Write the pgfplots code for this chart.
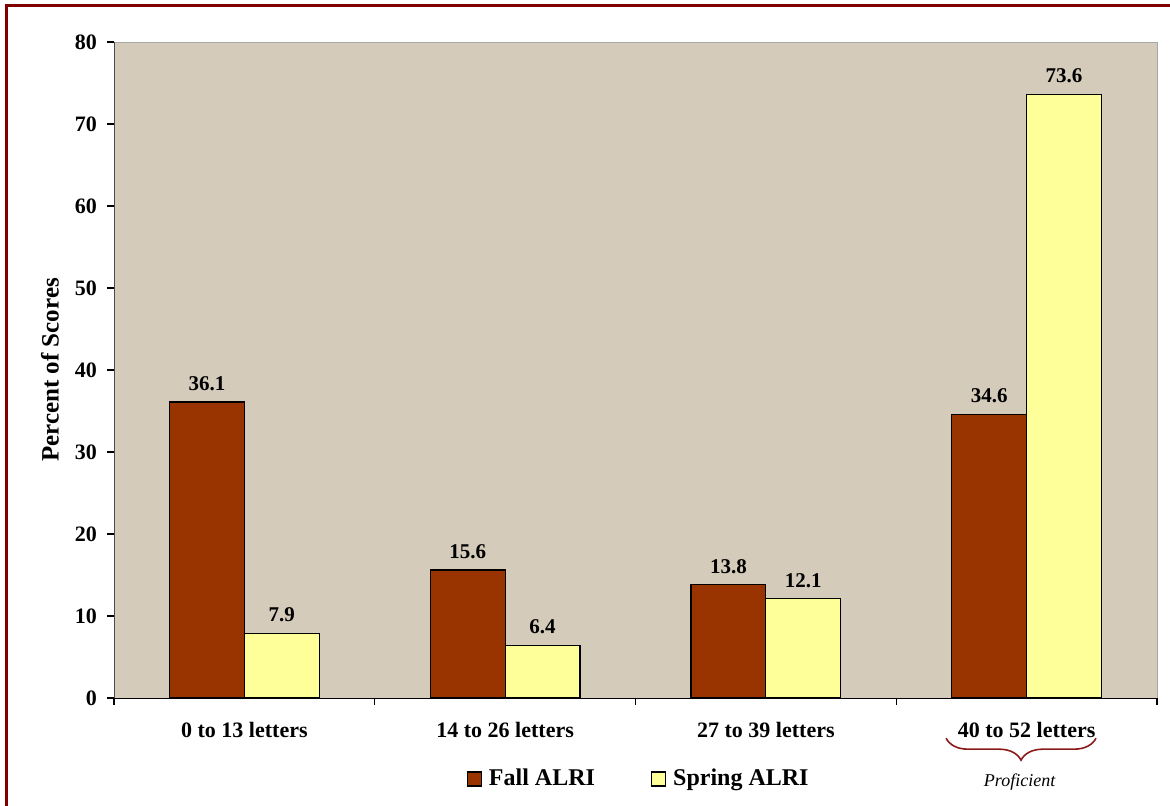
\documentclass[border=0pt]{standalone}
\usepackage{pgfplots}
\pgfplotsset{compat=1.18}
\usepackage{fontspec}
\setmainfont{Liberation Serif}
\usetikzlibrary{decorations.pathreplacing}
\definecolor{fallc}{RGB}{153,51,0}
\definecolor{springc}{RGB}{255,255,153}
\definecolor{bgc}{RGB}{212,203,186}
\definecolor{borderc}{RGB}{128,0,0}
\definecolor{bracec}{RGB}{139,26,26}
\begin{document}
\begin{tikzpicture}
\path[use as bounding box] (0,0) rectangle (585pt,403pt);
\draw[borderc, line width=1.5pt] (3pt,0) -- (3pt,400pt) -- (585pt,400pt);
\begin{axis}[
  at={(57pt,54pt)}, anchor=south west,
  scale only axis, width=521.5pt, height=328pt,
  ybar=0pt, bar width=0.287,
  xmin=-0.5, xmax=3.5, ymin=0, ymax=80,
  ytick={0,10,...,80},
  xtick={0,1,2,3},
  xticklabels={0 to 13 letters,14 to 26 letters,27 to 39 letters,40 to 52 letters},
  minor xtick={-0.5,0.5,1.5,2.5,3.5},
  major x tick style={draw=none},
  tick align=outside,
  major tick length=3.5pt, minor tick length=3.5pt,
  axis x line*=bottom, axis y line*=left,
  x axis line style={black,-}, y axis line style={black!70,-},
  every tick/.style={black, line width=0.6pt},
  axis background/.style={fill=bgc, draw=black!35},
  /pgf/number format/assume math mode=true,
  ticklabel style={font=\bfseries\fontsize{11}{13}\selectfont},
  xticklabel style={yshift=-5pt},
  yticklabel style={xshift=-1.5pt},
  ylabel={Percent of Scores},
  ylabel style={font=\bfseries\fontsize{12.5}{14}\selectfont, at={(axis description cs:-0.0614,0.5)}, anchor=center},
  nodes near coords={\pgfmathprintnumber[fixed,precision=1,fixed zerofill]{\pgfplotspointmeta}},
  every node near coord/.append style={font=\bfseries\fontsize{10.5}{12}\selectfont, black, yshift=2pt},
  legend style={at={(0.504,-0.1235)}, anchor=center, draw=none, fill=none, legend columns=2,
    font=\bfseries\fontsize{12}{14}\selectfont,
    /tikz/every odd column/.append style={column sep=1.5pt},
    /tikz/every even column/.append style={column sep=26pt}},
  legend image code/.code={\draw[#1] (0pt,-3.5pt) rectangle (7pt,3.5pt);},
  clip=false,
]
\addplot[fill=fallc, draw=black, line width=0.6pt] coordinates {(0,36.1) (1,15.6) (2,13.8) (3,34.6)};
\addplot[fill=springc, draw=black, line width=0.6pt] coordinates {(0,7.9) (1,6.4) (2,12.1) (3,73.6)};
\legend{Fall ALRI, Spring ALRI}
\draw[bracec, line width=0.8pt, decorate, decoration={brace, mirror, amplitude=11pt}] (axis cs:2.691,-4.9) -- (axis cs:3.266,-4.9);
\node[font=\itshape\fontsize{9}{11}\selectfont] at (axis cs:2.973,-10.2) {Proficient};
\end{axis}
\end{tikzpicture}
\end{document}
